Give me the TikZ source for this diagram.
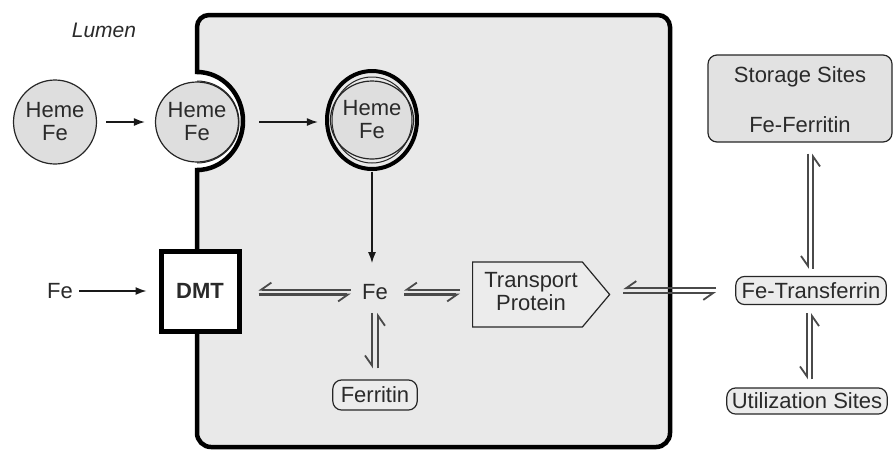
\documentclass[tikz,border=0pt]{standalone}
\usepackage{fontspec}
\setmainfont{Liberation Sans}
\usetikzlibrary{arrows.meta,shapes.symbols,shapes.geometric}
\definecolor{cellfill}{HTML}{E9E9E9}
\definecolor{hemefill}{HTML}{DEDEDE}
\definecolor{boxfill}{HTML}{ECECEC}
\definecolor{storfill}{HTML}{E2E2E2}
\definecolor{txt}{HTML}{2A2A2A}
\definecolor{eqcol}{HTML}{4A4A4A}
\tikzset{
  lbl/.style={font=\fontsize{22}{23}\selectfont, text=txt, inner sep=0pt, align=center},
  heme/.style={lbl, ellipse, draw=black!85, line width=1.2pt, fill=hemefill, minimum width=82pt, minimum height=84pt},
  rbox/.style={lbl, draw=black!85, line width=1.2pt, rounded corners=9pt, fill=boxfill, inner xsep=6pt, inner ysep=6pt},
  conn/.style={line width=1.4pt, draw=black!90, -{Latex[length=11pt,width=8pt]}},
  eqa/.style={line width=2.2pt, draw=eqcol, -{Straight Barb[harpoon,swap,length=10pt,width=14pt,line width=1.8pt]}},
}
\begin{document}
\begin{tikzpicture}[x=1pt,y=-1pt]
\useasboundingbox (0,0) rectangle (893,451);
% cell
\draw[line width=4.5pt, fill=cellfill]
  (197,72) -- (197,27) arc[start angle=180,end angle=270,radius=12]
  -- (658,15) arc[start angle=270,end angle=360,radius=12]
  -- (670,433) arc[start angle=0,end angle=90,radius=14]
  -- (211,447) arc[start angle=90,end angle=180,radius=14]
  -- (197,170) arc[start angle=90,end angle=-90,x radius=46,y radius=49] -- cycle;
\node[lbl, font=\fontsize{21}{23}\selectfont\itshape] (lumen) at (104,30) {Lumen};
% heme circles
\node[heme] (h1) at (55,122) {Heme\\Fe};
\node[heme, minimum width=78pt, minimum height=80pt] (h2) at (197,122) {Heme\\Fe};
\draw[line width=1pt, draw=black!85] (197,81) arc[start angle=-90,end angle=90,x radius=42,y radius=41];
\node[heme, minimum width=74pt, minimum height=78pt] (h3) at (372,120) {Heme\\Fe};
\draw[line width=1pt, draw=black!85] (h3.center) ellipse[x radius=40, y radius=43];
\draw[line width=4pt] (h3.center) ellipse[x radius=45, y radius=49];
% DMT and others
\node[lbl, draw=black, line width=5pt, fill=white, minimum width=78pt, minimum height=80pt, font=\fontsize{22}{23}\selectfont\bfseries] (dmt) at (200,291) {DMT};
\node[lbl] (fe0) at (60,291) {Fe};
\node[lbl] (fe) at (375,292) {Fe};
\node[rbox, inner xsep=8pt, inner ysep=7pt] (ferr) at (375,395) {Ferritin};
\node[signal, signal to=east, signal pointer angle=100, draw=black!85, line width=1.2pt, fill=boxfill, minimum width=137pt, minimum height=65pt, inner sep=0pt] (tp) at (527.5,294.5) {};
\node[lbl] (tpt) at (531,292) {Transport\\Protein};
\node[rbox] (tf) at (811,290.5) {Fe-Transferrin};
\node[rbox, inner ysep=5pt, inner xsep=5pt] (util) at (807,401) {Utilization Sites};
\node[lbl, draw=black!85, line width=1.2pt, rounded corners=9pt, fill=storfill, minimum width=184pt, minimum height=87pt] (stor) at (800,98.5) {};
\node[lbl] (stt) at (800,77) {Storage Sites};
\node[lbl] (sft) at (800,125) {Fe-Ferritin};
% connectors
\draw[conn, shorten <=9pt, shorten >=10pt] (h1.east) -- (h2.west);
\draw[conn, shorten <=20pt, shorten >=12pt] (h2.east) -- (h2.east -| h3.west);
\draw[conn, shorten <=12pt, shorten >=21pt] (h3.south) -- (h3.south |- fe.north);
\draw[conn, shorten <=6pt, shorten >=12pt] (fe0.east) -- (dmt.west);
% equilibria horizontal
\draw[eqa, shorten <=11pt, shorten >=17pt] ([yshift=2.4pt]fe.west) -- ([yshift=2.4pt]fe.west -| dmt.east);
\draw[eqa, shorten <=17pt, shorten >=11pt] ([yshift=-2.4pt]fe.west -| dmt.east) -- ([yshift=-2.4pt]fe.west);
\draw[eqa, shorten <=12pt, shorten >=16pt] ([yshift=2.4pt]fe.east -| tp.west) -- ([yshift=2.4pt]fe.east);
\draw[eqa, shorten <=16pt, shorten >=12pt] ([yshift=-2.4pt]fe.east) -- ([yshift=-2.4pt]fe.east -| tp.west);
\draw[eqa, shorten <=19pt, shorten >=13pt] ([yshift=2.4pt]tf.west) -- ([yshift=2.4pt]tf.west -| tp.east);
\draw[eqa, shorten <=13pt, shorten >=19pt] ([yshift=-2.4pt]tf.west -| tp.east) -- ([yshift=-2.4pt]tf.west);
% equilibria vertical
\draw[eqa, shorten <=13pt, shorten >=11pt] ([xshift=-3pt]fe.south) -- ([xshift=-3pt]fe.south |- ferr.north);
\draw[eqa, shorten <=11pt, shorten >=13pt] ([xshift=3pt]fe.south |- ferr.north) -- ([xshift=3pt]fe.south);
\draw[eqa, shorten <=11pt, shorten >=7pt] ([xshift=8pt]stor.south) -- ([xshift=8pt]stor.south |- tf.north);
\draw[eqa, shorten <=7pt, shorten >=11pt] ([xshift=13pt]stor.south |- tf.north) -- ([xshift=13pt]stor.south);
\draw[eqa, shorten <=8pt, shorten >=8pt] ([xshift=-4pt]tf.south) -- ([xshift=-4pt]tf.south |- util.north);
\draw[eqa, shorten <=8pt, shorten >=8pt] ([xshift=1pt]tf.south |- util.north) -- ([xshift=1pt]tf.south);
\end{tikzpicture}
\end{document}
